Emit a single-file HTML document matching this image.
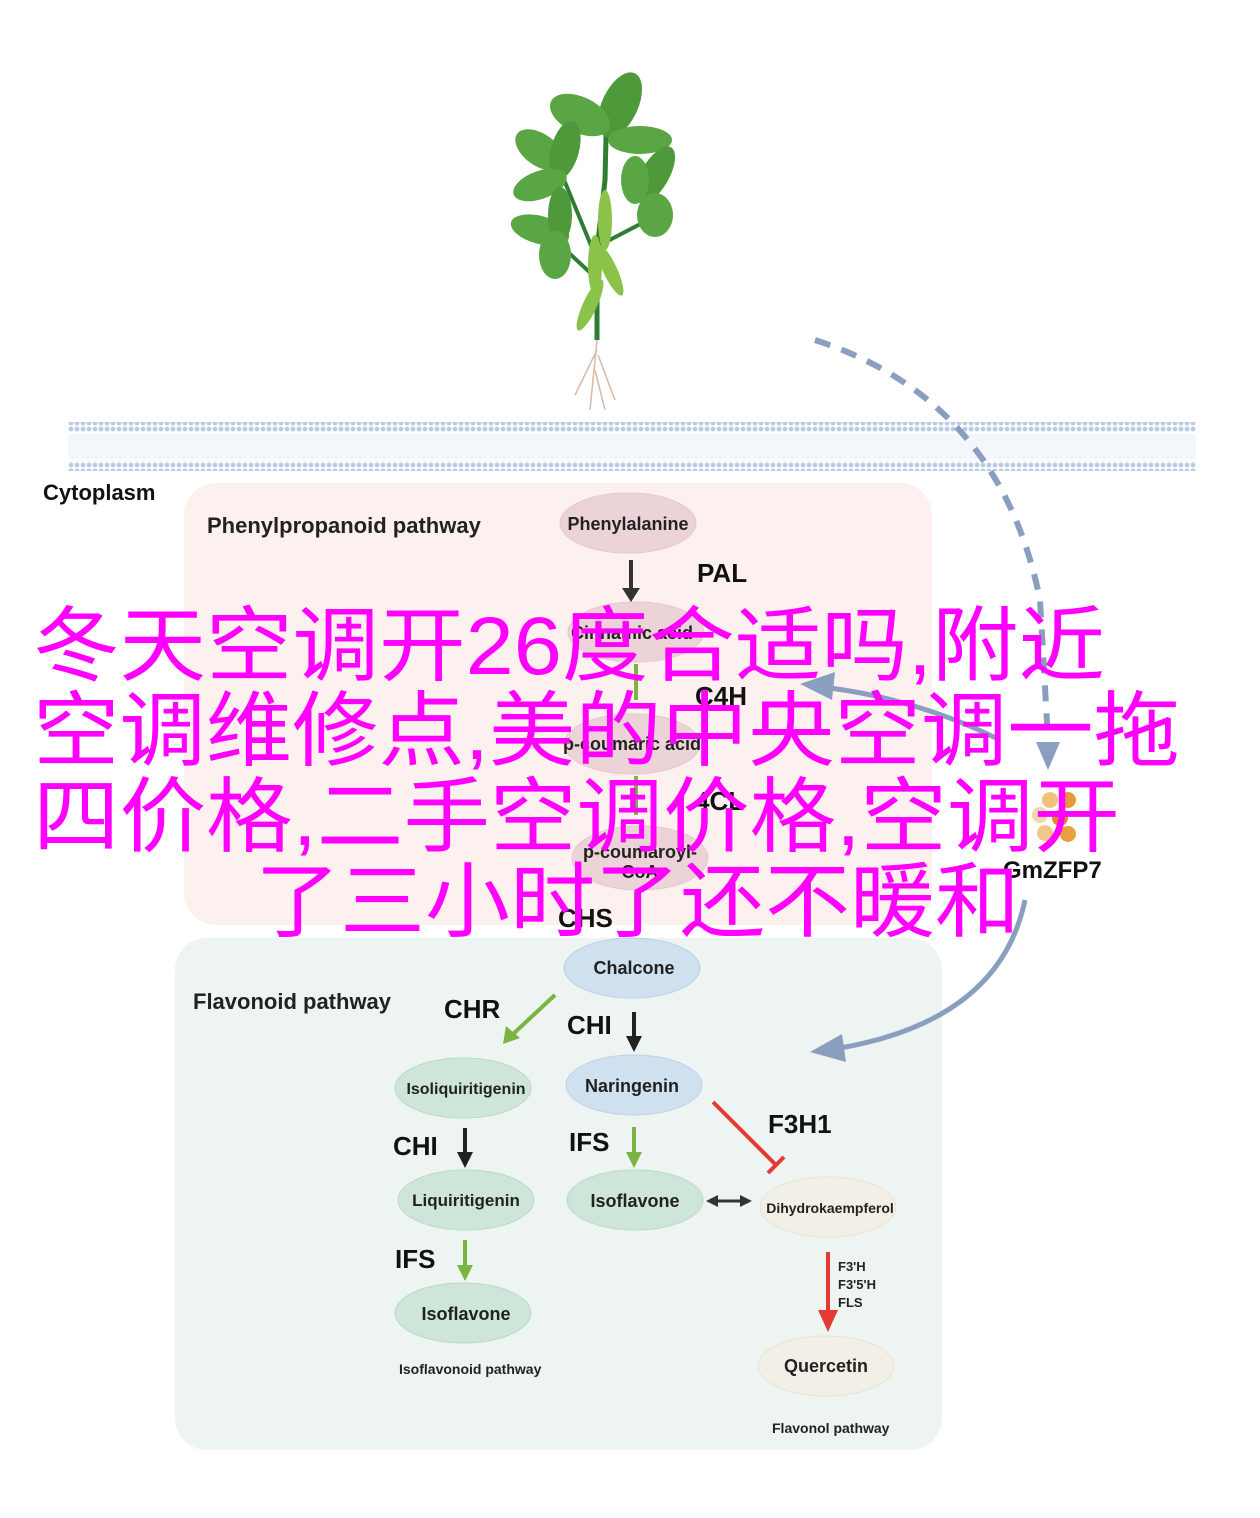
<!DOCTYPE html>
<html><head><meta charset="utf-8"><style>
html,body{margin:0;padding:0;background:#fff;}
svg{display:block;font-family:"Liberation Sans",sans-serif;}
.cjk{font-family:"Liberation Sans","Noto Sans CJK SC",sans-serif;fill:#ff00ff;font-size:82px;}
</style></head><body>
<svg width="1260" height="1518" viewBox="0 0 1260 1518" xmlns="http://www.w3.org/2000/svg">
<defs>
<pattern id="dots" x="68" y="0" width="6" height="6" patternUnits="userSpaceOnUse"><circle cx="3" cy="3" r="2.4" fill="#b7cbe6"/></pattern>
<marker id="ab" markerWidth="8" markerHeight="8" refX="4" refY="4" orient="auto" markerUnits="strokeWidth"><path d="M0,0 L8,4 L0,8 z" fill="#222"/></marker>
</defs>
<!-- plant -->
<g>
<path d="M597,340 L597,250 L605,180 L607,95" stroke="#2e7d32" stroke-width="5" fill="none"/>
<path d="M597,260 L560,170 M598,280 L555,240 M600,245 L648,220" stroke="#2e7d32" stroke-width="4" fill="none"/>
<ellipse cx="620" cy="105" rx="18" ry="35" fill="#4e9a3a" transform="rotate(25 620 105)"/>
<ellipse cx="580" cy="115" rx="32" ry="18" fill="#5aa544" transform="rotate(25 580 115)"/>
<ellipse cx="640" cy="140" rx="32" ry="14" fill="#5aa544"/>
<ellipse cx="540" cy="150" rx="28" ry="16" fill="#5aa544" transform="rotate(35 540 150)"/>
<ellipse cx="565" cy="150" rx="14" ry="30" fill="#4e9a3a" transform="rotate(15 565 150)"/>
<ellipse cx="540" cy="185" rx="28" ry="14" fill="#5aa544" transform="rotate(-20 540 185)"/>
<ellipse cx="655" cy="175" rx="14" ry="32" fill="#4e9a3a" transform="rotate(30 655 175)"/>
<ellipse cx="635" cy="180" rx="14" ry="24" fill="#5aa544"/>
<ellipse cx="655" cy="215" rx="18" ry="22" fill="#5aa544"/>
<ellipse cx="540" cy="230" rx="30" ry="14" fill="#5aa544" transform="rotate(15 540 230)"/>
<ellipse cx="560" cy="215" rx="12" ry="28" fill="#4e9a3a"/>
<ellipse cx="555" cy="255" rx="16" ry="24" fill="#5aa544"/>
<ellipse cx="605" cy="220" rx="7" ry="30" fill="#8bc34a"/>
<ellipse cx="595" cy="265" rx="7" ry="30" fill="#8bc34a"/>
<ellipse cx="610" cy="270" rx="7" ry="28" fill="#8bc34a" transform="rotate(-25 610 270)"/>
<ellipse cx="590" cy="305" rx="7" ry="28" fill="#8bc34a" transform="rotate(25 590 305)"/>
<path d="M597,340 L590,410 M597,350 L575,395 M598,355 L615,400 M595,370 L605,410" stroke="#d8b8a8" stroke-width="1.5" fill="none"/>
</g>
<!-- membrane -->
<rect x="68" y="422" width="1128" height="10" fill="url(#dots)"/>
<rect x="68" y="461" width="1128" height="10" fill="url(#dots)"/>
<rect x="68" y="434" width="1128" height="25" fill="#f3f6fb"/>
<!-- dashed arc -->
<path d="M815,340 Q1000,400 1040,600 L1048,740" stroke="#8a9ebf" stroke-width="6" fill="none" stroke-dasharray="16,12"/>
<path d="M1036,742 L1060,742 L1048,770 z" fill="#8a9ebf"/>
<!-- boxes -->
<rect x="184" y="483" width="748" height="442" rx="32" fill="#fdf1ef"/>
<rect x="175" y="938" width="767" height="512" rx="32" fill="#eef4f1"/>
<text x="43" y="500" font-size="22" font-weight="bold" fill="#111">Cytoplasm</text>
<text x="207" y="533" font-size="22" font-weight="bold" fill="#222">Phenylpropanoid pathway</text>
<text x="193" y="1009" font-size="22" font-weight="bold" fill="#222">Flavonoid pathway</text>
<!-- pink ellipses -->
<g fill="#ecd3d7" stroke="#e6c6cb">
<ellipse cx="628" cy="523" rx="68" ry="30"/>
<ellipse cx="636" cy="632" rx="68" ry="30"/>
<ellipse cx="632" cy="744" rx="68" ry="30"/>
<ellipse cx="640" cy="858" rx="68" ry="32"/>
</g>
<g font-size="18" font-weight="bold" fill="#222" text-anchor="middle">
<text x="628" y="530">Phenylalanine</text>
<text x="632" y="639">Cinnamic acid</text>
<text x="632" y="750">p-coumaric acid</text>
<text x="640" y="858">p-coumaroyl-</text>
<text x="640" y="878">CoA</text>
</g>
<path d="M631,560 L631,592" stroke="#333" stroke-width="4"/><path d="M622,588 L640,588 L631,602 z" fill="#333"/>
<text x="697" y="582" font-size="26" font-weight="bold" fill="#111">PAL</text>
<path d="M636,664 L636,700" stroke="#7cb342" stroke-width="4"/>
<text x="695" y="705" font-size="26" font-weight="bold" fill="#111">C4H</text>
<path d="M636,776 L636,815" stroke="#7cb342" stroke-width="4"/>
<text x="695" y="810" font-size="26" font-weight="bold" fill="#111">4CL</text>
<text x="558" y="927" font-size="26" font-weight="bold" fill="#111">CHS</text>
<path d="M636,892 L636,930" stroke="#7cb342" stroke-width="4"/>
<!-- GmZFP7 -->
<g>
<circle cx="1050" cy="800" r="8" fill="#f2c07a"/><circle cx="1068" cy="800" r="8" fill="#e89a3a"/><circle cx="1040" cy="815" r="8" fill="#f0d8a8"/><circle cx="1060" cy="818" r="8" fill="#e08a20"/><circle cx="1045" cy="833" r="8" fill="#f2c88a"/><circle cx="1068" cy="834" r="8" fill="#e8a040"/>
</g>
<text x="1003" y="878" font-size="24" font-weight="bold" fill="#111">GmZFP7</text>
<!-- blue arrow to C4H -->
<path d="M1000,740 Q920,700 830,688" stroke="#8a9ebf" stroke-width="5" fill="none"/>
<path d="M800,684 L835,672 L832,700 z" fill="#8a9ebf"/>
<!-- curved arrow to naringenin area -->
<path d="M1025,900 Q1000,1020 840,1048" stroke="#8a9ebf" stroke-width="5" fill="none"/>
<path d="M810,1052 L842,1034 L846,1062 z" fill="#8a9ebf"/>
<!-- flavonoid ellipses -->
<g fill="#cfe0ee" stroke="#bcd2e6">
<ellipse cx="632" cy="968" rx="68" ry="30"/>
<ellipse cx="634" cy="1085" rx="68" ry="30"/>
</g>
<g fill="#cde6d9" stroke="#b8d9c7">
<ellipse cx="463" cy="1088" rx="68" ry="30"/>
<ellipse cx="466" cy="1200" rx="68" ry="30"/>
<ellipse cx="463" cy="1313" rx="68" ry="30"/>
<ellipse cx="635" cy="1200" rx="68" ry="30"/>
</g>
<g fill="#f2f0e6" stroke="#e6e3d6">
<ellipse cx="828" cy="1207" rx="68" ry="30"/>
<ellipse cx="826" cy="1366" rx="68" ry="30"/>
</g>
<g font-size="18" font-weight="bold" fill="#222" text-anchor="middle">
<text x="634" y="974">Chalcone</text>
<text x="632" y="1092">Naringenin</text>
<text x="466" y="1094" font-size="16">Isoliquiritigenin</text>
<text x="466" y="1206" font-size="17">Liquiritigenin</text>
<text x="466" y="1320">Isoflavone</text>
<text x="635" y="1207">Isoflavone</text>
<text x="830" y="1213" font-size="14">Dihydrokaempferol</text>
<text x="826" y="1372">Quercetin</text>
</g>
<g font-size="26" font-weight="bold" fill="#111">
<text x="444" y="1018">CHR</text>
<text x="567" y="1034">CHI</text>
<text x="393" y="1155">CHI</text>
<text x="569" y="1151">IFS</text>
<text x="395" y="1268">IFS</text>
<text x="768" y="1133">F3H1</text>
</g>
<!-- arrows -->
<path d="M555,995 L512,1035" stroke="#7cb342" stroke-width="4"/><path d="M503,1044 L506,1026 L520,1038 z" fill="#7cb342"/>
<path d="M634,1012 L634,1040" stroke="#222" stroke-width="4"/><path d="M626,1036 L642,1036 L634,1052 z" fill="#222"/>
<path d="M465,1128 L465,1156" stroke="#222" stroke-width="4"/><path d="M457,1152 L473,1152 L465,1168 z" fill="#222"/>
<path d="M634,1127 L634,1155" stroke="#7cb342" stroke-width="4"/><path d="M626,1152 L642,1152 L634,1168 z" fill="#7cb342"/>
<path d="M465,1240 L465,1268" stroke="#7cb342" stroke-width="4"/><path d="M457,1265 L473,1265 L465,1281 z" fill="#7cb342"/>
<path d="M713,1102 L776,1165" stroke="#e53935" stroke-width="4"/><path d="M768,1173 L784,1157" stroke="#e53935" stroke-width="4"/>
<path d="M716,1201 L742,1201" stroke="#333" stroke-width="3"/><path d="M706,1201 L718,1195 L718,1207 z" fill="#333"/><path d="M752,1201 L740,1195 L740,1207 z" fill="#333"/>
<path d="M828,1252 L828,1312" stroke="#e53935" stroke-width="4"/><path d="M818,1310 L838,1310 L828,1332 z" fill="#e53935"/>
<g font-size="13" font-weight="bold" fill="#222">
<text x="838" y="1271">F3'H</text><text x="838" y="1289">F3'5'H</text><text x="838" y="1307">FLS</text>
<text x="399" y="1374" font-size="14">Isoflavonoid pathway</text>
<text x="772" y="1433" font-size="14">Flavonol pathway</text>
</g>
<!-- magenta overlay -->
<g class="cjk">
<text x="33" y="674" textLength="1072" lengthAdjust="spacingAndGlyphs">冬天空调开26度合适吗,附近</text>
<text x="33" y="759" textLength="1147" lengthAdjust="spacingAndGlyphs">空调维修点,美的中央空调一拖</text>
<text x="33" y="845" textLength="1087" lengthAdjust="spacingAndGlyphs">四价格,二手空调价格,空调开</text>
<text x="255" y="930" textLength="765" lengthAdjust="spacingAndGlyphs">了三小时了还不暖和</text>
</g>
</svg>
</body></html>
